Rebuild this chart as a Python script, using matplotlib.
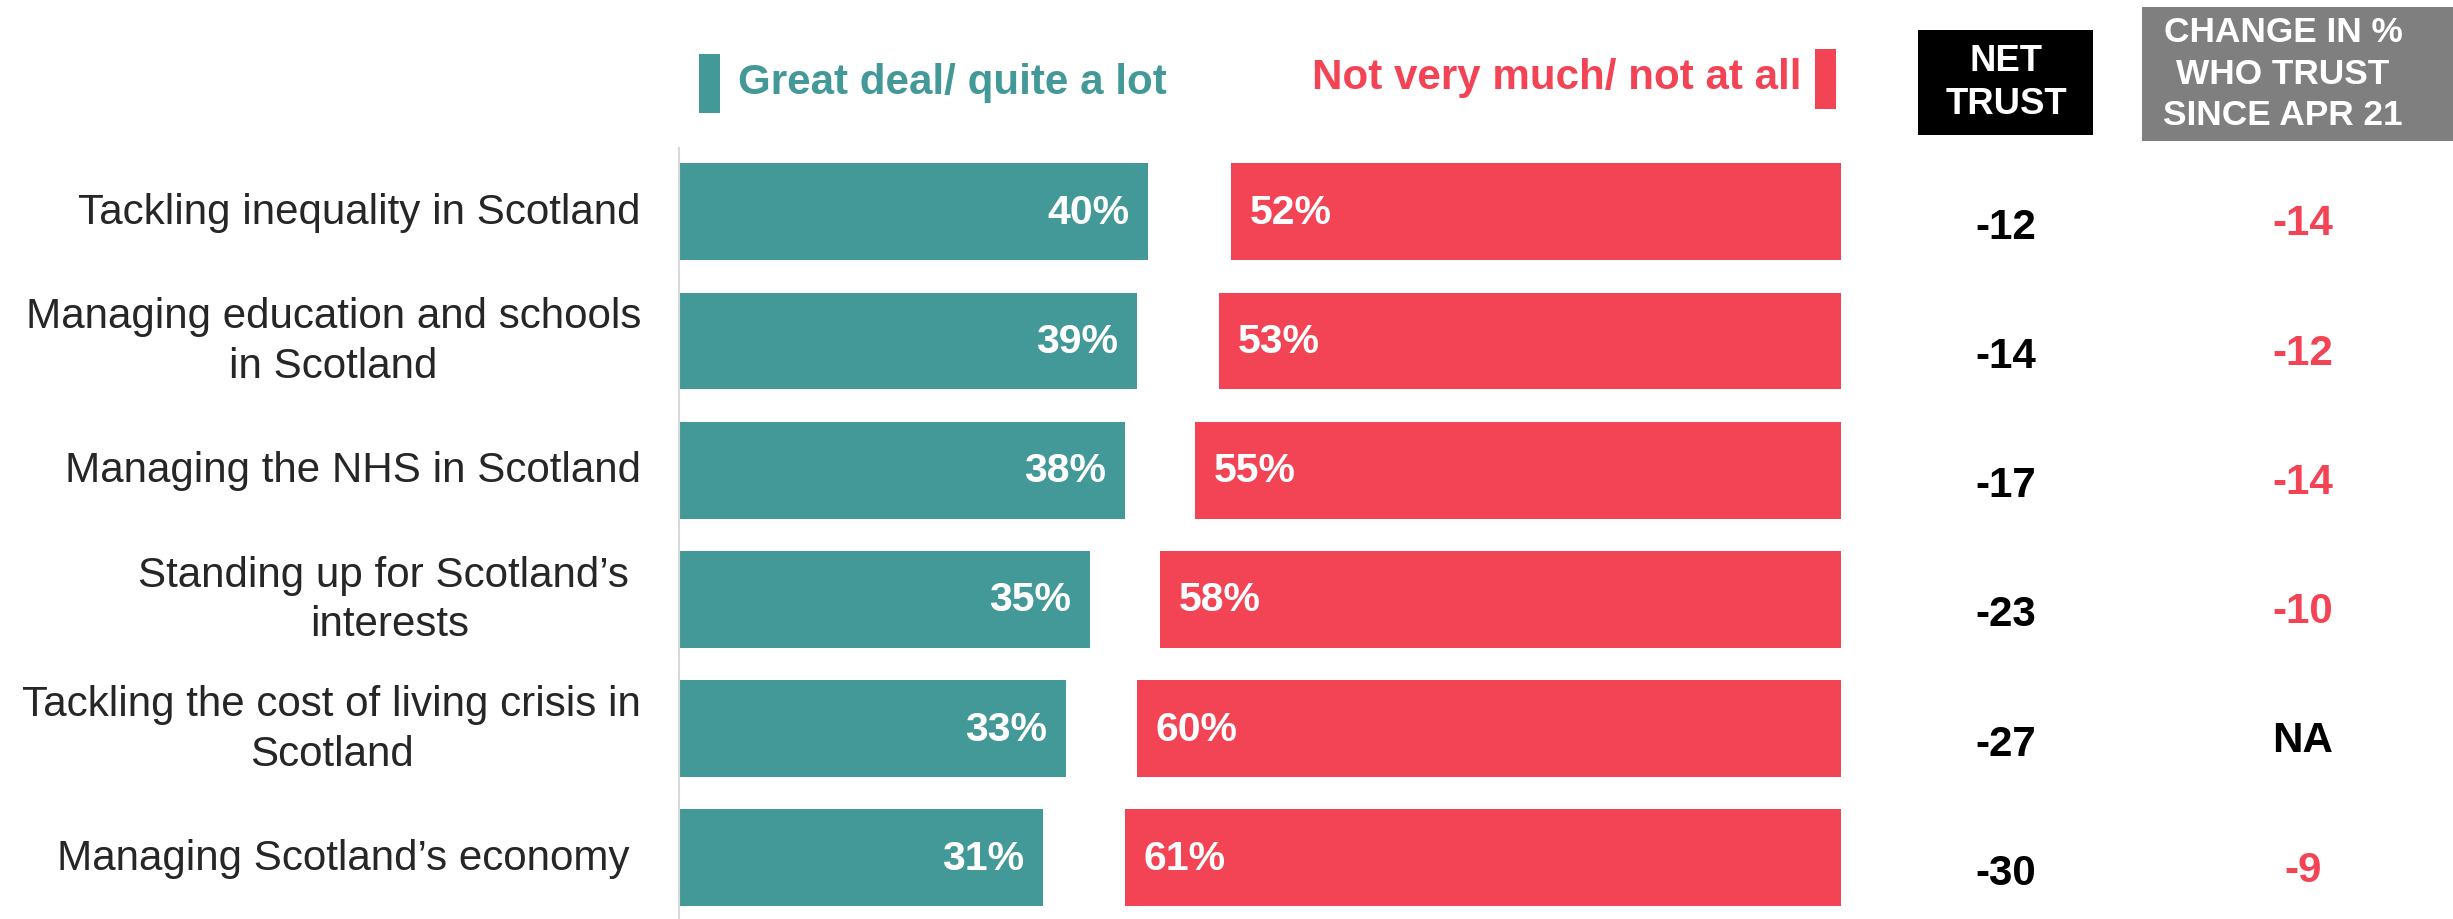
import matplotlib
matplotlib.use("Agg")
import matplotlib.pyplot as plt
from matplotlib import font_manager, transforms
from matplotlib.patches import Rectangle

# ---------------- data ----------------
categories = [
    "Tackling inequality in Scotland",
    "Managing education and schools\nin Scotland",
    "Managing the NHS in Scotland",
    "Standing up for Scotland’s \ninterests",
    "Tackling the cost of living crisis in\nScotland",
    "Managing Scotland’s economy ",
]
trust = [40, 39, 38, 35, 33, 31]          # Great deal/ quite a lot
distrust = [52, 53, 55, 58, 60, 61]       # Not very much/ not at all
net_trust = [-12, -14, -17, -23, -27, -30]
change_since_apr21 = [-14, -12, -14, -10, None, -9]

legend_labels = ["Great deal/ quite a lot", "Not very much/ not at all"]
header_net = "NET\nTRUST"
header_change = "CHANGE IN %\nWHO TRUST\nSINCE APR 21"

# ---------------- style ----------------
TEAL = "#439998"
RED = "#F24455"
GREY_BOX = "#7F7F7F"
TEXT = "#262626"


def has_font(name):
    try:
        font_manager.findfont(font_manager.FontProperties(family=name),
                              fallback_to_default=False)
        return True
    except Exception:
        return False


if has_font("Liberation Sans Narrow"):
    FAM = ["Liberation Sans Narrow", "DejaVu Sans"]
    k = 1.0
else:
    FAM = ["Liberation Sans", "DejaVu Sans"]
    k = 0.82
plt.rcParams["font.family"] = FAM

W, H = 2453, 920
DPI = 100
fig = plt.figure(figsize=(W / DPI, H / DPI), dpi=DPI)
fig.patch.set_facecolor("white")

RIGHT_END = 99  # red bars are right-aligned at this value
ax = fig.add_axes([679 / W, 0, (1841 - 679) / W, (920 - 149) / H])
ax.set_xlim(0, RIGHT_END)
ax.set_ylim(5.473, -0.494)

ypos = list(range(len(categories)))
ax.barh(ypos, trust, height=0.75, color=TEAL)
ax.barh(ypos, distrust, left=[RIGHT_END - d for d in distrust], height=0.75, color=RED)

for s in ["top", "right", "bottom"]:
    ax.spines[s].set_visible(False)
ax.spines["left"].set_color("#D9D9D9")
ax.spines["left"].set_linewidth(1.5)
ax.set_xticks([])
ax.set_yticks([])

pad = 1.6
for i, (t, d) in enumerate(zip(trust, distrust)):
    ax.text(t - pad, i, f"{t}%", ha="right", va="center", color="white",
            fontsize=36 * k, fontweight="bold")
    ax.text(RIGHT_END - d + pad, i, f"{d}%", ha="left", va="center", color="white",
            fontsize=36 * k, fontweight="bold")

for i, lab in enumerate(categories):
    ax.text(-3.24, i, lab, ha="right", va="center", multialignment="center",
            fontsize=37 * k, color=TEXT, clip_on=False, linespacing=1.32)

trans = transforms.blended_transform_factory(fig.transFigure, ax.transData)
for i, v in enumerate(net_trust):
    ax.text(2006 / W, i + 0.116, f"{v}", transform=trans, ha="center", va="center",
            fontsize=37 * k, fontweight="bold", color="black", clip_on=False)
for i, v in enumerate(change_since_apr21):
    if v is None:
        txt, col = "NA", "black"
    else:
        txt, col = f"{v}", (RED if v < 0 else TEAL)
    ax.text(2303 / W, i + 0.09, txt, transform=trans, ha="center", va="center",
            fontsize=37 * k, fontweight="bold", color=col, clip_on=False)

# headers
fig.patches.append(Rectangle((1918 / W, 1 - 136 / H), 175 / W, 105 / H,
                             transform=fig.transFigure, facecolor="black",
                             edgecolor="none"))
fig.text(2006 / W, 1 - 83 / H, header_net, ha="center", va="center",
         color="white", fontsize=32 * k, fontweight="bold", linespacing=1.3)
fig.patches.append(Rectangle((2142 / W, 1 - 142 / H), (W - 2142) / W, 134 / H,
                             transform=fig.transFigure, facecolor=GREY_BOX,
                             edgecolor="none"))
fig.text(2283 / W, 1 - 74 / H, header_change, ha="center", va="center",
         color="white", fontsize=31 * k, fontweight="bold", linespacing=1.33)

# legend
fig.patches.append(Rectangle((699 / W, 1 - 114 / H), 21 / W, 59 / H,
                             transform=fig.transFigure, facecolor=TEAL,
                             edgecolor="none"))
fig.text(738 / W, 1 - 83 / H, legend_labels[0], ha="left", va="center",
         color=TEAL, fontsize=37 * k, fontweight="bold")
fig.patches.append(Rectangle((1815 / W, 1 - 110 / H), 21 / W, 60 / H,
                             transform=fig.transFigure, facecolor=RED,
                             edgecolor="none"))
fig.text(1801 / W, 1 - 78 / H, legend_labels[1], ha="right", va="center",
         color=RED, fontsize=37 * k, fontweight="bold")

fig.savefig("out.png", dpi=DPI, facecolor="white")
